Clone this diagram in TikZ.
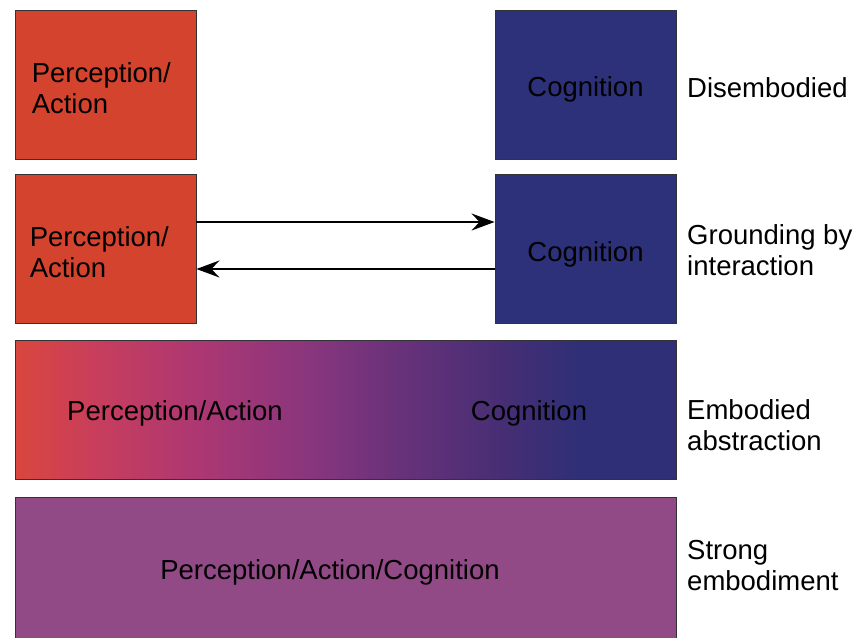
\documentclass[tikz,border=0pt]{standalone}
\usepackage{fontspec}
\setmainfont{Liberation Sans}
\usetikzlibrary{arrows.meta}
\definecolor{pared}{RGB}{211,67,46}
\definecolor{cogblue}{RGB}{45,49,121}
\definecolor{strongpurple}{RGB}{146,74,135}
\definecolor{edgegray}{RGB}{50,50,55}
\definecolor{gA}{RGB}{218,70,62}
\definecolor{gB}{RGB}{200,62,92}
\definecolor{gC}{RGB}{172,55,115}
\definecolor{gD}{RGB}{138,54,125}
\definecolor{gE}{RGB}{104,50,122}
\definecolor{gF}{RGB}{70,46,116}
\definecolor{gG}{RGB}{46,47,118}
\pgfdeclarehorizontalshading{embgrad}{100bp}{color(0bp)=(gA); color(25bp)=(gA); color(31bp)=(gB); color(39bp)=(gC); color(47bp)=(gD); color(54bp)=(gE); color(62bp)=(gF); color(68bp)=(gG); color(75bp)=(gG); color(100bp)=(gG)}
\begin{document}
\begin{tikzpicture}[x=1pt,y=-1pt,
  every node/.style={font=\fontsize{27.5}{31}\selectfont, text=black},
  box/.style={draw=edgegray, line width=0.9pt, rectangle, inner sep=0pt},
  pabox/.style={box, fill=pared, minimum width=181pt, minimum height=149pt},
  cogbox/.style={box, fill=cogblue, minimum width=181pt, minimum height=149pt},
  lbl/.style={anchor=west, align=left, inner sep=0pt},
  conn/.style={line width=1.8pt, -{Stealth[length=23pt,width=17pt,inset=8pt]}}
]
\useasboundingbox (0,0) rectangle (861,637);
\clip (0,0) rectangle (861,637);
\fill[white] (0,0) rectangle (861,637);

% Row 1
\node[pabox] (p1) at (105.5,84.5) {};
\node[lbl] (p1t) at ([xshift=17pt,yshift=-4pt]p1.west) {Perception/\\Action};
\node[cogbox] (c1) at (585.5,84.5) {};
\node (c1t) at ([yshift=-5pt]c1.center) {Cognition};
\node[lbl] (l1) at (687,88) {Disembodied};

% Row 2
\node[pabox] (p2) at (105.5,249) {};
\node[lbl] (p2t) at ([xshift=15pt,yshift=-3pt]p2.west) {Perception/\\Action};
\node[cogbox] (c2) at (585.5,249) {};
\node (c2t) at ([yshift=-5pt]c2.center) {Cognition};
\node[lbl] (l2) at (687,250) {Grounding by\\interaction};
\draw[conn] ([yshift=27pt]p2.east) -- ([yshift=27pt]c2.west);
\draw[conn] ([yshift=-20pt]c2.west) -- ([yshift=-20pt]p2.east);

% Row 3
\node[box, shading=embgrad, minimum width=661pt, minimum height=139pt] (g) at (345.5,409.5) {};
\node (gp) at (175,413) {Perception/Action};
\node (gc) at (529,413) {Cognition};
\node[lbl] (l3) at (687,425) {Embodied\\abstraction};

% Row 4
\node[box, fill=strongpurple, minimum width=661pt, minimum height=153pt] (s) at (345.5,573.5) {};
\node (st) at (330,572) {Perception/Action/Cognition};
\node[lbl] (l4) at (687,566) {Strong\\embodiment};
\end{tikzpicture}
\end{document}
